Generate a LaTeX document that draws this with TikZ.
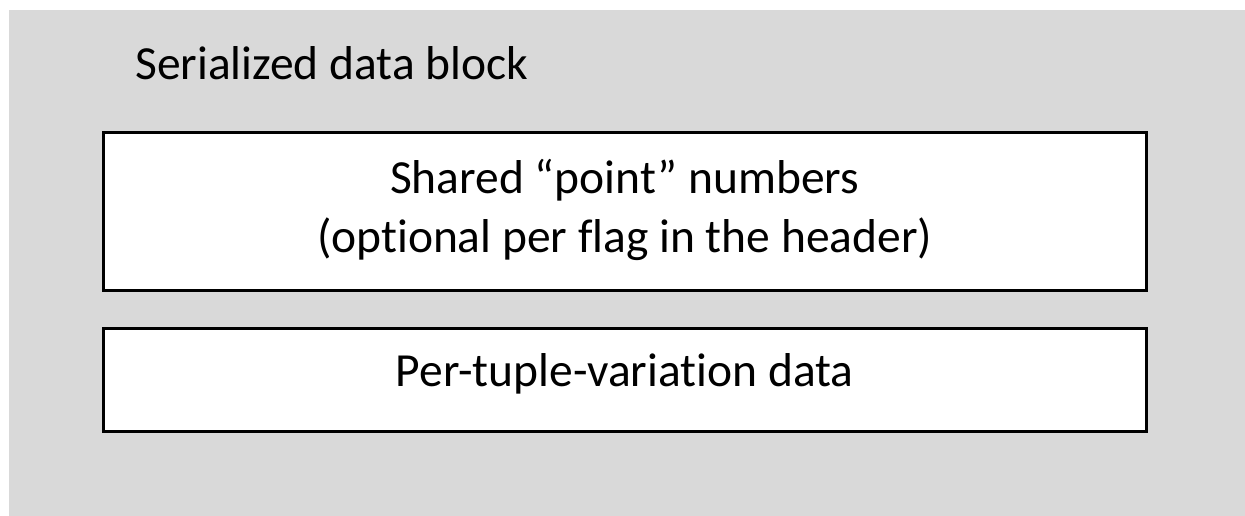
\documentclass[tikz,border=0pt]{standalone}
\usepackage{fontspec}
\setmainfont{Carlito}[Ligatures={NoCommon,TeX}]
\definecolor{bggray}{HTML}{D9D9D9}
\tikzset{
  databox/.style={draw=black, line width=3pt, fill=white},
  boxtext/.style={font=\fontsize{47.5}{59}\selectfont, inner sep=0pt, anchor=base, align=center},
}
\begin{document}
\begin{tikzpicture}[x=1pt,y=-1pt]
\useasboundingbox (0,0) rectangle (1245,516);
\fill[white] (0,0) rectangle (1245,516);
\fill[bggray] (9,10) rectangle (1245,516);
\node[boxtext, anchor=base west] (title) at (135,80) {Serialized data block};
\draw[databox] (103,133) rectangle (1146.5,290.5);
\node[boxtext] (shared) at (624.7,252) {Shared “point” numbers\\(optional per flag in the header)};
\draw[databox] (103,328.7) rectangle (1146.5,431.5);
\node[boxtext] (pertuple) at (624.7,386) {Per-tuple-variation data};
\end{tikzpicture}
\end{document}
